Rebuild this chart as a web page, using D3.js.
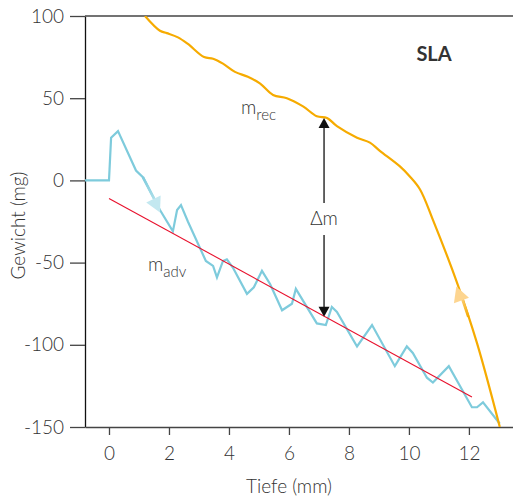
<!DOCTYPE html>
<html>
<head>
<meta charset="utf-8">
<script src="https://cdn.jsdelivr.net/npm/d3@7"></script>
<style>
  html, body { margin: 0; padding: 0; background: #fff; }
  svg { display: block; }
  text { font-family: Lato, "Open Sans", sans-serif; fill: #333; }
</style>
</head>
<body>
<svg id="chart" width="513" height="499"></svg>
<script>
// ---- data ----
const xTicks = [0, 2, 4, 6, 8, 10, 12];
const yTicks = [100, 50, 0, -50, -100, -150];

// m_adv (blue, measured advancing mass)
const advX = [-0.8, 0, 0.07, 0.3, 0.9, 1.13, 1.7, 2.13, 2.27, 2.4, 2.63, 3.23, 3.47, 3.6, 3.8, 3.93, 4.13, 4.6, 4.83, 5.1, 5.37, 5.77, 6.1, 6.23, 6.93, 7.23, 7.43, 7.6, 8.27, 8.77, 9.53, 9.93, 10.13, 10.6, 10.8, 11.33, 12.1, 12.27, 12.47, 13.03];
const advY = [0, 0, 26, 30, 6, 2, -18, -31, -18, -15, -25, -49, -52, -59, -49, -48, -53, -69, -65, -55, -63, -79, -75, -66, -87, -88, -77, -80, -101, -88, -113, -101, -105, -120, -123, -113, -138, -138, -135, -148];

// m_rec (orange, receding mass)
const recX = [1.2, 1.7, 1.93, 2.3, 2.63, 3.17, 3.47, 3.8, 4.2, 4.63, 5.03, 5.47, 5.93, 6.47, 6.93, 7.27, 7.6, 8.27, 8.7, 9.03, 9.7, 10.03, 10.37, 10.8, 11.6, 12.27, 13.03];
const recY = [100, 91, 89.6, 87, 83, 75, 74, 71, 66, 63, 59, 52, 50, 45, 39, 38, 33, 26, 23, 18, 8.5, 2.4, -5.5, -24, -62, -99, -150];

// linear fit (red)
const fitX = [0, 12.1];
const fitY = [-11, -131.7];

// delta-m annotation
const deltaX = 7.17;
const deltaTop = 38;
const deltaBottom = -83;

// ---- layout ----
const svg = d3.select("#chart");
const x = d3.scaleLinear().domain([-0.8, 13.47]).range([85, 513]);
const y = d3.scaleLinear().domain([-150, 100]).range([427, 16]);

const axisColor = "#444";

// y axis
const gy = svg.append("g").attr("transform", `translate(${x.range()[0]},0)`)
  .call(d3.axisLeft(y).tickValues(yTicks).tickSize(15).tickSizeOuter(0).tickPadding(6).tickFormat(d => String(d)));
gy.select(".domain").attr("stroke", "#111").attr("stroke-width", 1.3);
gy.selectAll(".tick line").attr("stroke", axisColor).attr("stroke-width", 1.3);
gy.selectAll(".tick text").style("font-size", "19px").attr("fill", "#333").style("font-family", "Lato, sans-serif").attr("font-weight", 300);

// x axis
const gx = svg.append("g").attr("transform", `translate(0,${y.range()[0]})`)
  .call(d3.axisBottom(x).tickValues(xTicks).tickSize(8).tickSizeOuter(0).tickPadding(12).tickFormat(d => String(d)));
gx.select(".domain").attr("stroke", axisColor).attr("stroke-width", 1.3);
gx.selectAll(".tick line").attr("stroke", axisColor).attr("stroke-width", 1.3);
gx.selectAll(".tick text").style("font-size", "19px").attr("fill", "#333").style("font-family", "Lato, sans-serif").attr("font-weight", 300);

// top frame line
svg.append("line")
  .attr("x1", x.range()[0]).attr("x2", x.range()[1])
  .attr("y1", y(100)).attr("y2", y(100))
  .attr("stroke", axisColor).attr("stroke-width", 1.3);

// axis titles
svg.append("text")
  .attr("transform", `translate(25,${(y.range()[0] + y.range()[1]) / 2 + 4}) rotate(-90)`)
  .attr("text-anchor", "middle")
  .style("font-size", "19px").attr("font-weight", 300)
  .text("Gewicht (mg)");
svg.append("text")
  .attr("x", 289).attr("y", 493)
  .attr("text-anchor", "middle")
  .style("font-size", "19px").attr("font-weight", 300)
  .text("Tiefe (mm)");

// clip
svg.append("clipPath").attr("id", "clip").append("rect")
  .attr("x", x.range()[0]).attr("y", y.range()[1])
  .attr("width", x.range()[1] - x.range()[0]).attr("height", y.range()[0] - y.range()[1]);

const plot = svg.append("g").attr("clip-path", "url(#clip)");

const advData = advX.map((d, i) => [d, advY[i]]);
const recData = recX.map((d, i) => [d, recY[i]]);
const fitData = fitX.map((d, i) => [d, fitY[i]]);

const lineLin = d3.line().x(d => x(d[0])).y(d => y(d[1]));
const lineSmooth = d3.line().x(d => x(d[0])).y(d => y(d[1])).curve(d3.curveCatmullRom.alpha(0.5));

const blue = "#7ecbdc", blueLight = "#c3e8f0";
const orange = "#f6ab00", orangeLight = "#fdd590";

// blue curve
plot.append("path").datum(advData).attr("d", lineLin)
  .attr("fill", "none").attr("stroke", blue).attr("stroke-width", 2.2).attr("stroke-linejoin", "miter");

// light tail before blue arrow
const bA = [1.13, 2], bB = [1.7, -18];
const defs = svg.append("defs");
const gb = defs.append("linearGradient").attr("id", "gblue").attr("gradientUnits", "userSpaceOnUse")
  .attr("x1", x(bA[0])).attr("y1", y(bA[1])).attr("x2", x(bB[0])).attr("y2", y(bB[1]));
gb.append("stop").attr("offset", 0).attr("stop-color", blue);
gb.append("stop").attr("offset", 1).attr("stop-color", blueLight);
plot.append("path").datum([bA, [1.55, -12.7]]).attr("d", lineLin)
  .attr("fill", "none").attr("stroke", "url(#gblue)").attr("stroke-width", 2.6);

// orange curve
plot.append("path").datum(recData).attr("d", lineSmooth)
  .attr("fill", "none").attr("stroke", orange).attr("stroke-width", 2.2);

// light tail below orange arrow
const oA = [11.72, -69], oB = [11.98, -83];
const go = defs.append("linearGradient").attr("id", "gorange").attr("gradientUnits", "userSpaceOnUse")
  .attr("x1", x(oA[0])).attr("y1", y(oA[1])).attr("x2", x(oB[0])).attr("y2", y(oB[1]));
go.append("stop").attr("offset", 0).attr("stop-color", orangeLight);
go.append("stop").attr("offset", 1).attr("stop-color", orange);
plot.append("path").datum([oA, oB]).attr("d", lineLin)
  .attr("fill", "none").attr("stroke", "url(#gorange)").attr("stroke-width", 2.6);

// red fit line
plot.append("path").datum(fitData).attr("d", lineLin)
  .attr("fill", "none").attr("stroke", "#e8112d").attr("stroke-width", 1.1);

// arrowheads along curves
function arrowHead(tip, from, len, width, color) {
  const tx = x(tip[0]), ty = y(tip[1]);
  const fx = x(from[0]), fy = y(from[1]);
  const dx = tx - fx, dy = ty - fy, L = Math.hypot(dx, dy);
  const ux = dx / L, uy = dy / L;
  const bx = tx - ux * len, by = ty - uy * len;
  const px = -uy * width / 2, py = ux * width / 2;
  svg.append("path")
    .attr("d", `M${tx},${ty}L${bx + px},${by + py}L${bx - px},${by - py}Z`)
    .attr("fill", color);
}
arrowHead([1.7, -19.5], bA, 15, 16, blueLight);
arrowHead([11.58, -64.5], [12.27, -99], 15, 16, orangeLight);

// delta m arrow
const dx0 = x(deltaX);
svg.append("line").attr("x1", dx0).attr("x2", dx0).attr("y1", y(deltaTop) + 8).attr("y2", 203)
  .attr("stroke", "#111").attr("stroke-width", 1.3);
svg.append("line").attr("x1", dx0).attr("x2", dx0).attr("y1", 235).attr("y2", y(deltaBottom) - 8)
  .attr("stroke", "#111").attr("stroke-width", 1.3);
svg.append("path").attr("d", `M${dx0},${y(deltaTop)}l-5.5,10h11Z`).attr("fill", "#111");
svg.append("path").attr("d", `M${dx0},${y(deltaBottom)}l-5.5,-10h11Z`).attr("fill", "#111");
svg.append("text").attr("x", dx0).attr("y", 225).attr("text-anchor", "middle")
  .style("font-size", "19px").attr("font-weight", 300).text("Δm");

// labels
function mLabel(px, py, sub) {
  const t = svg.append("text").attr("x", px).attr("y", py).style("font-size", "19px").attr("font-weight", 300);
  t.append("tspan").text("m");
  t.append("tspan").attr("dy", 6).style("font-size", "15px").text(sub);
}
mLabel(241, 114, "rec");
mLabel(148, 271, "adv");

svg.append("text").attr("x", 434).attr("y", 61).attr("text-anchor", "middle")
  .style("font-size", "20px").attr("font-weight", 700).attr("fill", "#111").text("SLA");
</script>
</body>
</html>
